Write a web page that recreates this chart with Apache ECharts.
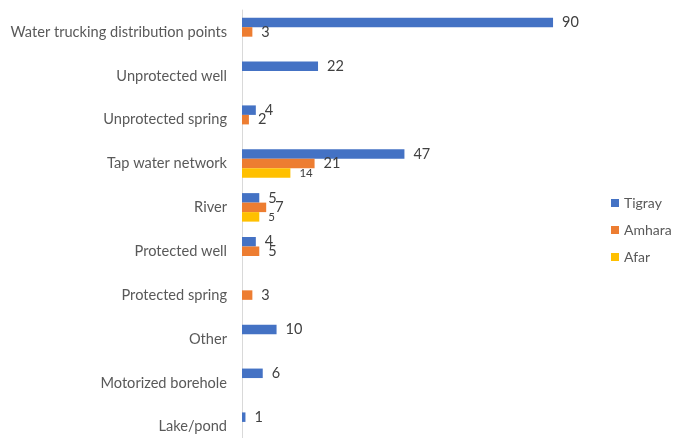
<!DOCTYPE html>
<html>
<head>
<meta charset="utf-8">
<script src="https://cdn.jsdelivr.net/npm/echarts@6/dist/echarts.min.js"></script>
<style>html,body{margin:0;padding:0;background:#fff}#c{width:676px;height:438px}</style>
</head>
<body>
<div id="c"></div>
<script>
const categories = ["Water trucking distribution points","Unprotected well","Unprotected spring","Tap water network","River","Protected well","Protected spring","Other","Motorized borehole","Lake/pond"];
const tigray = [90, 22, 4, 47, 5, 4, null, 10, 6, 1];
const amhara = [3, null, 2, 21, 7, 5, 3, null, null, null];
const afar = [null, null, null, 14, 5, null, null, null, null, null];

const font = "Lato, 'Open Sans', sans-serif";
function lbl(size){
  return {show:true, position:'right', distance:9, color:'#404040', fontSize:size, fontFamily:font,
    formatter: p => (p.value==null ? '' : p.value)};
}
const chart = echarts.init(document.getElementById('c'), null, {renderer:'canvas'});
chart.setOption({
  animation:false,
  textStyle:{fontFamily:font},
  grid:{left:242, top:10, width:345.6, height:438.6, containLabel:false, outerBoundsMode:'none'},
  legend:{orient:'vertical', left:606, top:191, itemWidth:8, itemHeight:8, itemGap:13,
    icon:'rect', textStyle:{color:'#595959', fontSize:14, fontFamily:font},
    data:['Tigray','Amhara','Afar']},
  xAxis:{type:'value', min:0, max:100, show:false, splitLine:{show:false}},
  yAxis:{type:'category', data:categories, inverse:true,
    axisLine:{show:true, lineStyle:{color:'#d9d9d9', width:1}},
    axisTick:{show:false},
    axisLabel:{color:'#595959', fontSize:14.6, fontFamily:font, margin:15}},
  series:[
    {name:'Tigray', type:'bar', data:tigray, barWidth:9.5, barGap:'0%', itemStyle:{color:'#4472C4'}, label:lbl(14.5)},
    {name:'Amhara', type:'bar', data:amhara, barWidth:9.5, barGap:'0%', itemStyle:{color:'#ED7D31'}, label:lbl(14.5)},
    {name:'Afar', type:'bar', data:afar, barWidth:9.5, barGap:'0%', itemStyle:{color:'#FFC000'}, label:lbl(11.5)}
  ]
});
</script>
</body>
</html>
